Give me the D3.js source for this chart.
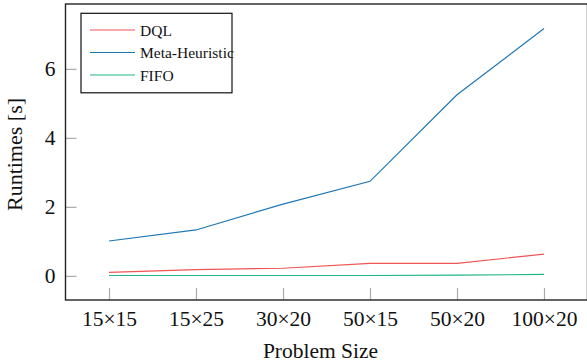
<!DOCTYPE html>
<html><head><meta charset="utf-8">
<script src="https://cdn.jsdelivr.net/npm/d3@7"></script>
<style>body{margin:0;background:#fff}svg{display:block}</style>
</head><body><svg id="c" width="587" height="362"></svg>
<script>
const categories = ["15×15","15×25","30×20","50×15","50×20","100×20"];
const dqlValues  = [0.10, 0.18, 0.22, 0.36, 0.36, 0.63];
const metaValues = [1.01, 1.33, 2.08, 2.74, 5.25, 7.17];
const fifoValues = [0.01, 0.01, 0.01, 0.01, 0.02, 0.04];
const yTicks = [0, 2, 4, 6];
const seriesNames = ["DQL", "Meta-Heuristic", "FIFO"];
const seriesColors = ["#f05454", "#1f77b4", "#1fb585"];
const FONT = '"Liberation Serif"';

const svg = d3.select("#c");
const L = 65.5, R = 587.5, T = 4, B = 300;
const x = d3.scaleLinear().domain([-0.5, categories.length - 0.5]).range([L, R]);
const y = d3.scaleLinear().domain([-0.7, 7.88]).range([B, T]);

const xAxis = d3.axisBottom(x).tickValues(d3.range(categories.length)).tickFormat(i => categories[i]).tickSizeInner(-12).tickSizeOuter(0).tickPadding(11);
const gx = svg.append("g").attr("transform", `translate(0,${B})`).call(xAxis);
gx.attr("font-family", null).attr("font-size", null);
gx.select(".domain").remove();
gx.selectAll("line").attr("stroke", "#aaa").attr("stroke-width", 1.2);
gx.selectAll("text").style("font-family", FONT).style("font-size", "21.5px").attr("fill", "#111");

const yAxis = d3.axisLeft(y).tickValues(yTicks).tickSizeInner(-11).tickSizeOuter(0).tickPadding(10);
const gy = svg.append("g").attr("transform", `translate(${L},0)`).call(yAxis);
gy.attr("font-family", null).attr("font-size", null);
gy.select(".domain").remove();
gy.selectAll("line").attr("stroke", "#aaa").attr("stroke-width", 1.2);
gy.selectAll("text").style("font-family", FONT).style("font-size", "21.5px").attr("fill", "#111");

const line = d3.line().x((d, i) => x(i)).y(d => y(d));
[dqlValues, metaValues, fifoValues].forEach((vals, k) => {
  svg.append("path").datum(vals).attr("d", line).attr("fill", "none")
    .attr("stroke", seriesColors[k]).attr("stroke-width", 1.2);
});

svg.append("rect").attr("x", L).attr("y", T).attr("width", R - L).attr("height", B - T)
  .attr("fill", "none").attr("stroke", "#222").attr("stroke-width", 1.4);

const lg = svg.append("g");
lg.append("rect").attr("x", 81).attr("y", 13.3).attr("width", 151).attr("height", 79.5)
  .attr("fill", "#fff").attr("stroke", "#111").attr("stroke-width", 1.2);
seriesNames.forEach((n, k) => {
  const yy = 30 + k * 22.5;
  lg.append("line").attr("x1", 90).attr("x2", 135).attr("y1", yy).attr("y2", yy)
    .attr("stroke", seriesColors[k]).attr("stroke-width", 1.2);
  lg.append("text").attr("x", 140).attr("y", yy + 5.5)
    .style("font-family", FONT).style("font-size", "15.5px").attr("fill", "#111").text(n);
});

svg.append("text").attr("x", 320.5).attr("y", 357.5).attr("text-anchor", "middle")
  .style("font-family", FONT).style("font-size", "21.5px").attr("fill", "#111").text("Problem Size");
svg.append("text").attr("transform", `translate(21.5,154.5) rotate(-90)`)
  .attr("text-anchor", "middle").style("font-family", FONT).style("font-size", "22px").attr("fill", "#111").text("Runtimes [s]");
</script></body></html>
